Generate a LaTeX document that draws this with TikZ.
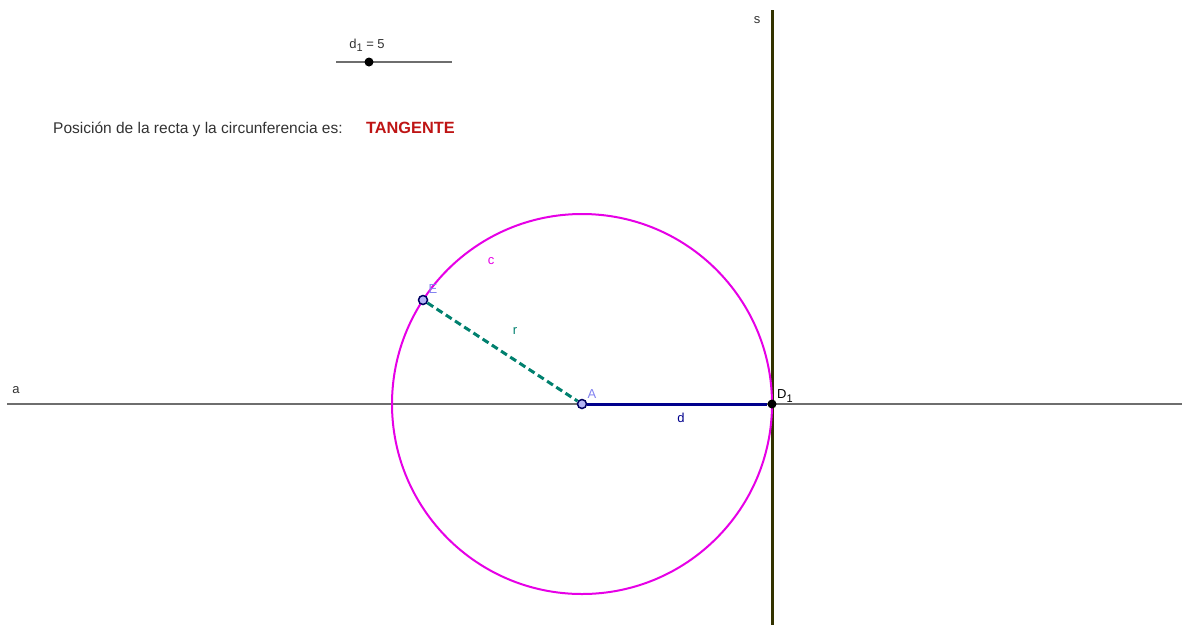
\documentclass[tikz,border=0pt]{standalone}
\usepackage{fontspec}
\setmainfont{Liberation Sans}
\definecolor{geomag}{RGB}{230,0,230}
\definecolor{geogrey}{RGB}{110,110,110}
\definecolor{geoolive}{RGB}{51,51,0}
\definecolor{geonavy}{RGB}{0,0,140}
\definecolor{geoteal}{RGB}{0,128,110}
\definecolor{geolilac}{RGB}{130,130,240}
\definecolor{geored}{RGB}{190,20,20}
\definecolor{geotext}{RGB}{50,50,50}
\usetikzlibrary{positioning}

\begin{document}
\begin{tikzpicture}[x=1pt,y=-1pt,
  lbl/.style={inner sep=0pt,font=\fontsize{13}{15}\selectfont},
  pt/.style={circle,draw=geonavy!70!black,fill=geolilac!60,line width=1.5pt,
    minimum size=9pt,inner sep=0pt},
  dot/.style={circle,fill=black,minimum size=9pt,inner sep=0pt}
]
  \useasboundingbox (0,0) rectangle (1182,625);
  % Lines a and s
  \coordinate (a0) at (7,404);
  \coordinate (a1) at (1182,404);
  \coordinate (s0) at (772,10);
  \coordinate (s1) at (772,625);
  \draw[geogrey,line width=2pt] (a0) -- (a1);
  \draw[geoolive,line width=3pt] (s0) -- (s1);
  \node[lbl,text=geotext] (la) at (16,390) {a};
  \node[lbl,text=geotext] (ls) at (757,20) {s};
  % Circle c
  \coordinate (A) at (582,404);
  \draw[geomag,line width=2pt] (A) circle[radius=190];
  \node[lbl,text=geomag] (lc) at (491,261) {c};
  % Radius r
  \node[pt] (E) at (423,300) {};
  \node[pt] (Ap) at (A) {};
  \draw[geoteal,line width=3pt,dash pattern=on 7pt off 4pt] (E) -- (Ap);
  \node[lbl,text=geoteal] (lr) at (515,331) {r};
  \node[lbl,text=geolilac] (lE) at (433,289) {E};
  \node[lbl,text=geolilac] (lA) at (592,394) {A};
  % Segment d
  \node[dot] (D1) at (772,404) {};
  \draw[geonavy,line width=3pt] (Ap) -- (D1);
  \node[lbl,text=geonavy] (ld) at (681,418) {d};
  \node[lbl,text=black,anchor=west] (lD) at (777,396) {D\raisebox{-0.45ex}{\fontsize{11}{13}\selectfont 1}};
  % Slider d_1
  \coordinate (sl0) at (336,62);
  \coordinate (sl1) at (452,62);
  \draw[geogrey,line width=1.6pt] (sl0) -- (sl1);
  \node[dot] (knob) at (369,62) {};
  \node[lbl,text=geotext] (lsl) at (367,45) {d\raisebox{-0.45ex}{\fontsize{11}{13}\selectfont 1} = 5};
  % Text
  \node[lbl,text=geotext,anchor=base west,font=\fontsize{15.5}{18}\selectfont] (txt) at (53,133)
    {Posición de la recta y la circunferencia es:};
  \node[lbl,text=geored,anchor=base west,font=\bfseries\fontsize{16.3}{18}\selectfont] (res) at (366,133)
    {TANGENTE};
\end{tikzpicture}
\end{document}
